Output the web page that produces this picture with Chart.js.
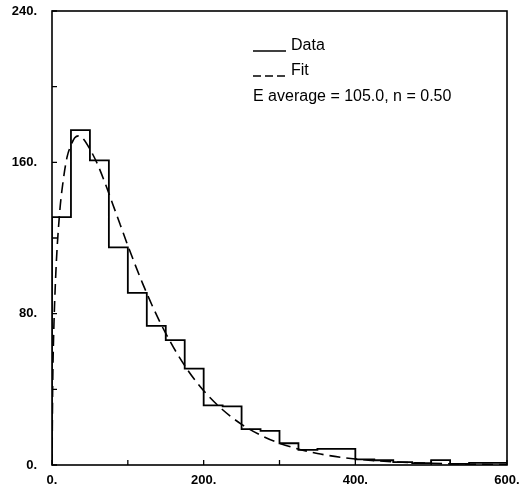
<!DOCTYPE html>
<html>
<head>
<meta charset="utf-8">
<script src="https://cdn.jsdelivr.net/npm/chart.js@4.4.1/dist/chart.umd.min.js"></script>
<style>
html,body{margin:0;padding:0;background:#fff;}
#wrap{width:522px;height:491px;}
</style>
</head>
<body>
<div id="wrap"><canvas id="c" width="522" height="491"></canvas></div>
<script>
// Histogram bins (left edges, width 25) and counts
const binEdges = [0,25,50,75,100,125,150,175,200,225,250,275,300,325,350,375,400,425,450,475,500,525,550,575];
const counts   = [131,177,161,115,91,73.5,66,51,31.5,31,19,18,11.5,8,8.5,8.5,3,2.5,1.5,1,2.6,0.6,1.1,1.1];
const binEnd = 600;

// Fit curve points
const fitE   = [0,1,2,5,10,15,20,25,30,35,40,50,60,70,80,90,100,120,140,160,180,200,225,250,275,300,350,400,450,500,550,600];
const fitVal = [0,45,66,101,133,151,163,169,173,174,173,167,159,149,138,127,116,95.5,77.5,62.3,49.6,39.3,29.2,21.5,15.8,11.5,6.1,3.2,1.7,0.9,0.4,0.2];

// Axis ticks
const xTicks = [0,100,200,300,400,500,600];
const xLabels = ['0.','','200.','','400.','','600.'];
const yTicks = [0,40,80,120,160,200,240];
const yLabels = ['0.','','80.','','160.','','240.'];

// Legend texts
const legendData = 'Data';
const legendFit = 'Fit';
const annotation = 'E average = 105.0, n = 0.50';

const histPts = [{x:0,y:0}];
binEdges.forEach((e,i)=>histPts.push({x:e,y:counts[i]}));
histPts.push({x:binEnd,y:counts[counts.length-1]});
histPts.push({x:binEnd,y:0});

const fitPts = fitE.map((e,i)=>({x:e,y:fitVal[i]}));

const FONT_LEG = '16px "Liberation Sans", Arial, sans-serif';

const framePlugin = {
  id:'frame',
  afterDatasetsDraw(chart){
    const ctx = chart.ctx, a = chart.chartArea;
    const xs = chart.scales.x, ys = chart.scales.y;
    ctx.save();
    ctx.strokeStyle = '#000';
    ctx.lineWidth = 1.6;
    ctx.strokeRect(a.left, a.top, a.right-a.left, a.bottom-a.top);
    // inward ticks
    ctx.lineWidth = 1.3;
    ctx.beginPath();
    xTicks.forEach(v=>{
      const px = xs.getPixelForValue(v);
      ctx.moveTo(px, a.bottom); ctx.lineTo(px, a.bottom-5);
    });
    yTicks.forEach(v=>{
      const py = ys.getPixelForValue(v);
      ctx.moveTo(a.left, py); ctx.lineTo(a.left+5, py);
    });
    ctx.stroke();
    // legend
    ctx.fillStyle = '#000';
    ctx.font = FONT_LEG;
    ctx.textBaseline = 'middle';
    ctx.textAlign = 'left';
    ctx.lineWidth = 1.3;
    ctx.beginPath();
    ctx.moveTo(253, 51); ctx.lineTo(286, 51);
    ctx.stroke();
    ctx.fillText(legendData, 291, 46);
    ctx.setLineDash([8,4]);
    ctx.beginPath();
    ctx.moveTo(253, 76); ctx.lineTo(286, 76);
    ctx.stroke();
    ctx.setLineDash([]);
    ctx.fillText(legendFit, 291, 71);
    ctx.fillText(annotation, 253, 97);
    ctx.restore();
  }
};

new Chart(document.getElementById('c'), {
  type:'line',
  data:{
    datasets:[
      {label:legendData, data:histPts, stepped:'before', borderColor:'#000', borderWidth:1.8, pointRadius:0, fill:false, tension:0},
      {label:legendFit, data:fitPts, borderColor:'#000', borderWidth:1.6, borderDash:[11,6], pointRadius:0, fill:false, cubicInterpolationMode:'monotone'}
    ]
  },
  options:{
    responsive:false,
    animation:false,
    devicePixelRatio:1,
    layout:{padding:{top:11,right:15,left:0,bottom:0}},
    plugins:{legend:{display:false}, tooltip:{enabled:false}},
    scales:{
      x:{
        type:'linear', min:0, max:600,
        afterBuildTicks(s){ s.ticks = xTicks.map(v=>({value:v})); },
        afterFit(s){ s.height = 26; s.paddingLeft = 0; s.paddingRight = 0; },
        grid:{display:false, drawTicks:false},
        border:{display:false},
        ticks:{
          autoSkip:false, maxRotation:0, padding:8, color:'#000',
          font:{family:'"Liberation Sans", Arial, sans-serif', size:13, weight:'bold'},
          callback(v){ const i = xTicks.indexOf(v); return i>=0 ? xLabels[i] : ''; }
        }
      },
      y:{
        type:'linear', min:0, max:240,
        afterBuildTicks(s){ s.ticks = yTicks.map(v=>({value:v})); },
        afterFit(s){ s.width = 52; s.paddingTop = 0; s.paddingBottom = 0; },
        grid:{display:false, drawTicks:false},
        border:{display:false},
        ticks:{
          autoSkip:false, padding:15, color:'#000',
          font:{family:'"Liberation Sans", Arial, sans-serif', size:13, weight:'bold'},
          callback(v){ const i = yTicks.indexOf(v); return i>=0 ? yLabels[i] : ''; }
        }
      }
    }
  },
  plugins:[framePlugin]
});
</script>
</body>
</html>
